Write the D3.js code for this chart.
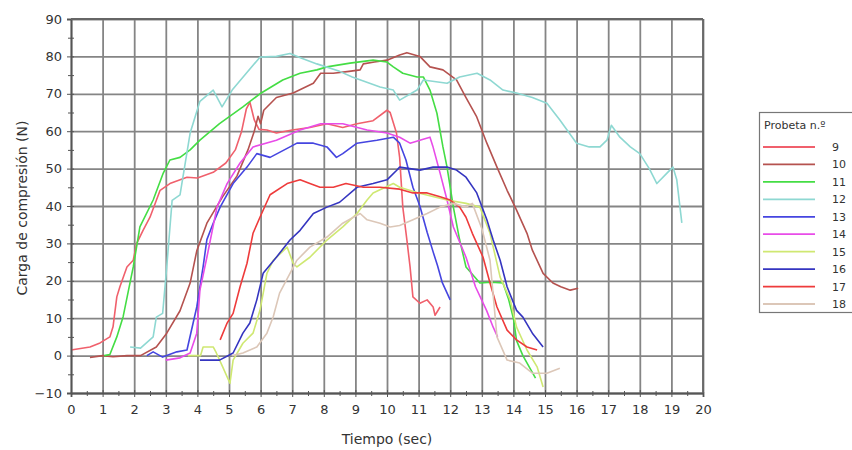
<!DOCTYPE html>
<html><head><meta charset="utf-8">
<script src="https://cdn.jsdelivr.net/npm/d3@7"></script>
<style>
body{margin:0;background:#fff;}
svg{display:block;}
text{font-family:"DejaVu Sans",Verdana,sans-serif;fill:#333;}
</style></head>
<body><svg id="c" width="852" height="450"></svg>
<script>
const xTicks=[0,1,2,3,4,5,6,7,8,9,10,11,12,13,14,15,16,17,18,19,20];
const yTicks=[-10,0,10,20,30,40,50,60,70,80,90];
const seriesNames=["9","10","11","12","13","14","15","16","17","18"];
const seriesColors=["#f0606c","#b5524f","#44dd44","#8ed8d2","#4545e0","#e84ce8","#cfe872","#3535c0","#ee3b3b","#dcc7b8"];

const s9t=[0,0.6,0.92,1.23,1.33,1.45,1.55,1.77,1.97,2.08,2.28,2.5,2.82,3.13,3.67,4.0,4.5,4.9,5.2,5.4,5.55,5.66,5.8,5.95,6.2,6.5,7.0,7.56,8.1,8.6,9.05,9.56,10.0,10.1,10.3,10.4,10.5,10.63,10.73,10.82,11.04,11.27,11.46,11.52,11.68];
const s9v=[1.5,2.3,3.4,5,7.7,15.7,18.5,23.7,25.5,30,33.5,37,44.2,46,47.7,47.5,49,51.5,55,60,66,67.8,63,60.5,60.3,59.5,60.3,61,62,61,62,62.8,65.6,65,59.5,53,39.7,30.9,23.7,15.7,14,14.9,13,10.8,13];

const s10t=[0.6,1.0,1.33,1.77,2.2,2.7,3.03,3.45,3.77,3.98,4.3,4.8,5.25,5.6,5.8,5.92,6.0,6.1,6.5,7.03,7.67,7.9,8.3,8.8,9.15,9.25,9.6,10.0,10.4,10.63,11.04,11.36,11.77,12.2,12.5,12.84,13.16,13.48,13.8,14.1,14.43,14.6,14.94,15.25,15.5,15.8,16.05];
const s10v=[-0.5,0,-0.3,0,0,2.3,6,12,19.4,28,35.4,42.5,48,55,60,64,62,65.6,69,70.2,72.8,75.5,75.5,76,76.4,78,78.5,79,80.4,81,80,77.2,76.4,73.7,69,63.8,56.8,50.4,44.2,38.9,32.7,28.2,22,19.4,18.4,17.5,18];

const s11t=[1.05,1.23,1.45,1.65,1.97,2.18,2.6,2.92,3.13,3.45,3.77,4.08,4.7,5.44,5.98,6.7,7.25,7.78,8.1,8.83,9.56,10.0,10.2,10.5,10.95,11.15,11.36,11.58,11.77,11.9,12.1,12.3,12.5,12.94,13.3,13.67,13.85,14.0,14.1,14.3,14.5,14.7];
const s11v=[0,0.3,5,10.4,23.7,34.4,41.6,48.8,52.3,53,55,57.6,62,66.5,70,73.7,75.5,76.4,77.2,78.2,79,78.5,77.2,75.5,74.5,74.5,71,64.8,55.8,50.4,39.7,30.9,23.7,19.4,19.6,19.4,15,10,4,0,-3,-6];

const s12t=[1.87,2.2,2.6,2.7,2.9,3.03,3.2,3.45,3.77,4.08,4.5,4.78,5.1,5.5,5.98,6.5,6.93,7.3,7.78,8.5,8.9,9.78,10.2,10.4,10.95,11.15,11.9,12.3,12.85,13.26,13.67,14.1,14.6,15.06,15.47,16.0,16.4,16.74,16.96,17.1,17.37,17.7,18.0,18.3,18.54,18.86,19.05,19.17,19.33];
const s12v=[2.3,2,5,10.3,11.3,23.7,41.5,43,59.5,68,71,66.5,71,75,79.8,80,80.8,79.5,78,76,74.5,71.8,71,68.3,71,73.7,72.8,74.5,75.5,73.7,71,70.2,69,67.5,63,56.8,55.8,55.8,57.6,61.6,58.4,55.8,54,50,46,48.8,50.4,47,35.5];

const s13t=[2.4,2.6,2.9,3.35,3.67,3.98,4.18,4.3,4.5,4.72,5.13,5.57,5.88,6.3,6.93,7.15,7.67,8.1,8.4,8.6,9.05,9.68,10.2,10.4,10.6,10.82,11.04,11.27,11.45,11.6,11.75,12.0];
const s13v=[0,1,-0.4,1,1.5,13,23.7,31,35.4,39.7,46,50.4,54,53,55.8,56.8,56.8,55.8,53,54,56.8,57.6,58.4,56.8,52.3,45,40,33,28,24,19.5,14.9];

const s14t=[3.0,3.45,3.77,3.98,4.08,4.3,4.62,4.94,5.35,5.76,6.5,7.25,7.9,8.6,9.37,10.0,10.4,10.73,11.04,11.36,11.45,11.68,11.9,12.1,12.5,12.8,13.15,13.36,13.5];
const s14v=[-1.2,-0.6,0.7,6,17.5,26.3,39.7,46,51.5,55.8,57.6,60.3,62,62,60.3,59.5,58.4,56.8,57.6,58.4,56,48.8,41.6,34.4,26.3,18.4,12.1,7.6,5];

const s15t=[3.7,4.1,4.18,4.5,4.6,4.8,5.03,5.13,5.44,5.76,5.98,6.2,6.4,6.84,7.03,7.15,7.56,8.1,8.6,9.05,9.37,9.56,10.2,10.4,11.0,11.9,12.5,12.94,13.26,13.58,13.9,14.1,14.43,14.75,14.94];
const s15v=[0,0,2.3,2.3,0.7,-3,-7.4,-1.2,3.3,6,12.1,22,25.5,29,24.7,23.7,26.3,30.9,34.4,38,41.6,43.5,46,45,43.5,41.6,40.7,39.7,32.7,21,14.9,7.6,1.5,-3,-8.4];

const s16t=[4.08,4.7,5.13,5.44,5.66,5.88,6.08,6.5,6.93,7.25,7.67,8.1,8.5,9.05,9.56,10.0,10.3,10.4,11.04,11.46,11.9,12.2,12.5,12.84,13.16,13.36,13.58,13.8,14.1,14.3,14.6,14.94];
const s16v=[-1.2,-1.2,0.7,6,8.7,14.9,22,26.3,30.9,33.5,38,39.7,41,45,46,47,49.5,50.4,49.6,50.4,50.4,49.6,47.7,43.5,36.3,30.9,25.5,18.4,12.1,10.3,6,2.3];

const s17t=[4.72,4.94,5.13,5.35,5.57,5.76,5.98,6.3,6.84,7.25,7.56,7.88,8.3,8.7,9.25,9.78,10.4,10.82,11.27,11.68,12.0,12.3,12.5,12.7,13.04,13.26,13.48,13.8,14.1,14.43,14.75];
const s17v=[4.2,8.7,11.3,18.4,24.7,32.7,37,43,46,47,46,45,45,46,45,45,44.5,43.5,43.5,42.5,41.6,39.7,37,32.7,26.3,19.4,13,6.8,4.2,2.3,1.5];

const s18t=[5.1,5.44,5.88,6.2,6.4,6.6,6.93,7.15,7.56,8.1,8.6,9.15,9.37,9.78,10.1,10.4,10.82,11.27,11.68,12.1,12.5,12.7,13.0,13.26,13.48,13.8,14.2,14.6,15.06,15.47];
const s18v=[0,0.7,2.3,6,10.4,16.7,22,25.5,29,31.7,35.4,38,36.3,35.4,34.4,34.8,36.3,38,39.7,40.7,39.7,40.7,34,25.5,5,-1.2,-2,-4.7,-4.7,-3.4];

const seriesT=[s9t,s10t,s11t,s12t,s13t,s14t,s15t,s16t,s17t,s18t];
const seriesV=[s9v,s10v,s11v,s12v,s13v,s14v,s15v,s16v,s17v,s18v];

const svg=d3.select("#c");
const L=71,R=703,T=19,B=393;
const x=d3.scaleLinear().domain([0,20]).range([L,R]);
const y=d3.scaleLinear().domain([-10,90]).range([B,T]);
const gridCol="#858585";

// grid via axes
const gx=svg.append("g").attr("transform",`translate(0,${B})`)
  .call(d3.axisBottom(x).tickValues(xTicks).tickSize(-(B-T)).tickFormat(""));
gx.select(".domain").remove();
gx.selectAll(".tick line").attr("stroke",gridCol).attr("stroke-width",1.8);
const gy=svg.append("g").attr("transform",`translate(${L},0)`)
  .call(d3.axisLeft(y).tickValues(yTicks).tickSize(-(R-L)).tickFormat(""));
gy.select(".domain").remove();
gy.selectAll(".tick line").attr("stroke",gridCol).attr("stroke-width",1.8);

// series
const line=d3.line().x(d=>x(d[0])).y(d=>y(d[1])).curve(d3.curveLinear);
seriesNames.forEach((n,i)=>{
  const pts=seriesT[i].map((t,j)=>[t,seriesV[i][j]]);
  svg.append("path").attr("d",line(pts)).attr("fill","none")
    .attr("stroke",seriesColors[i]).attr("stroke-width",1.6).attr("stroke-linejoin","round");
});

// axes with labels
const ax=svg.append("g").attr("transform",`translate(0,${B})`)
  .call(d3.axisBottom(x).tickValues(xTicks).tickSize(4).tickPadding(8).tickFormat(d3.format("d")));
ax.select(".domain").attr("stroke","#555").attr("stroke-width",1.8);
ax.selectAll(".tick line").attr("stroke","#555").attr("y1",-3).attr("y2",4);
ax.selectAll("text").attr("font-size",13).style("font-family","DejaVu Sans").attr("fill","#333");
const axm=svg.append("g").attr("transform",`translate(0,${B})`)
  .call(d3.axisBottom(x).tickValues(d3.range(0.5,20,1)).tickSize(3).tickFormat(""));
axm.select(".domain").remove();
axm.selectAll(".tick line").attr("stroke","#555").attr("y1",-2).attr("y2",3);

const ay=svg.append("g").attr("transform",`translate(${L},0)`)
  .call(d3.axisLeft(y).tickValues(yTicks).tickSize(4).tickPadding(5).tickFormat(d3.format("d")));
ay.select(".domain").attr("stroke","#555").attr("stroke-width",1.8);
ay.selectAll(".tick line").attr("stroke","#555").attr("x1",3).attr("x2",-4);
ay.selectAll("text").attr("font-size",13).style("font-family","DejaVu Sans").attr("fill","#333");
const aym=svg.append("g").attr("transform",`translate(${L},0)`)
  .call(d3.axisLeft(y).tickValues(d3.range(-5,90,10)).tickSize(3).tickFormat(""));
aym.select(".domain").remove();
aym.selectAll(".tick line").attr("stroke","#555").attr("x1",3).attr("x2",-3);

// right and top border
svg.append("line").attr("x1",R).attr("x2",R).attr("y1",T).attr("y2",B).attr("stroke","#666").attr("stroke-width",1.8);
svg.append("line").attr("x1",L).attr("x2",R).attr("y1",T).attr("y2",T).attr("stroke","#666").attr("stroke-width",1.8);

// titles
svg.append("text").attr("x",(L+R)/2).attr("y",444).attr("text-anchor","middle")
  .attr("font-size",14).text("Tiempo (sec)");
svg.append("text").attr("transform",`translate(27,${(T+B)/2+2}) rotate(-90)`).attr("text-anchor","middle")
  .attr("font-size",14).text("Carga de compresión (N)");

// legend
const lg=svg.append("g");
lg.append("rect").attr("x",759.5).attr("y",112.5).attr("width",100).attr("height",200)
  .attr("fill","#fff").attr("stroke","#777").attr("stroke-width",1.2);
lg.append("text").attr("x",764).attr("y",129).attr("font-size",11).text("Probeta n.º");
const ly=d3.scalePoint().domain(seriesNames).range([147,304]);
seriesNames.forEach((n,i)=>{
  lg.append("line").attr("x1",763).attr("x2",815).attr("y1",ly(n)).attr("y2",ly(n))
    .attr("stroke",seriesColors[i]).attr("stroke-width",1.8);
  lg.append("text").attr("x",832).attr("y",ly(n)+4).attr("font-size",11).text(n);
});
</script></body></html>
